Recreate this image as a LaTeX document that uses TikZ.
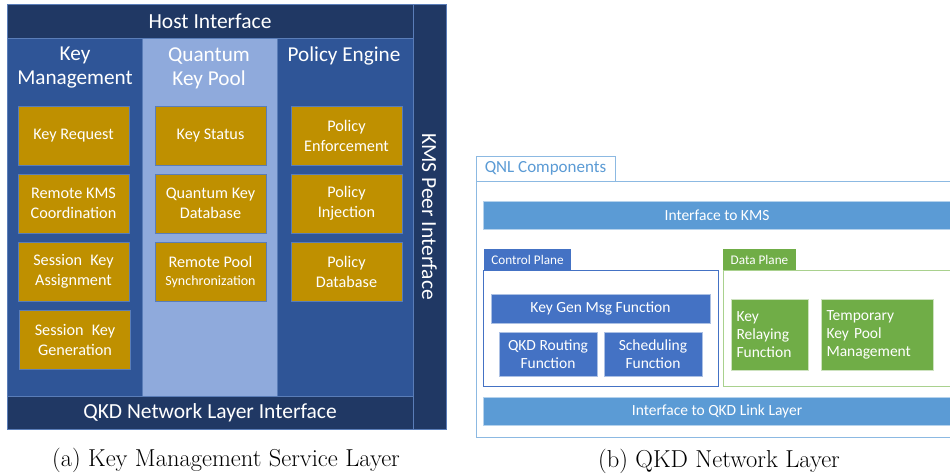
\documentclass[tikz,border=0pt]{standalone}
\usepackage{fontspec}
\newfontfamily\carlito{Carlito}
\usetikzlibrary{positioning}

\definecolor{navy}{HTML}{203864}
\definecolor{kmsblue}{HTML}{2F5597}
\definecolor{poolblue}{HTML}{8FAADC}
\definecolor{edgeblue}{HTML}{5A7DB8}
\definecolor{gold}{HTML}{BF9000}
\definecolor{qnlblue}{HTML}{5B9BD5}
\definecolor{ctrlblue}{HTML}{4472C4}
\definecolor{datagreen}{HTML}{70AD47}
\definecolor{lightgreen}{HTML}{A9D18E}

\tikzset{
	plain/.style={inner sep=0pt, outer sep=0pt, text=white, align=center, font=\carlito},
	navybar/.style={plain, fill=navy, draw=edgeblue, line width=0.6pt,
		font=\carlito\fontsize{21.5}{24}\selectfont},
	column/.style={plain, draw=edgeblue, line width=0.6pt, minimum height=358pt},
	colhead/.style={plain, font=\carlito\fontsize{21.2}{24}\selectfont},
	keybox/.style={plain, fill=gold, draw=edgeblue, line width=0.8pt,
		minimum width=111pt, minimum height=59pt,
		font=\carlito\fontsize{16.2}{20}\selectfont},
	qnlbar/.style={plain, fill=qnlblue, draw=qnlblue!45!white, line width=0.6pt,
		minimum width=468pt, minimum height=28pt,
		font=\carlito\fontsize{15.5}{18}\selectfont},
	tab/.style={plain, minimum height=21pt, font=\carlito\fontsize{13.2}{15}\selectfont},
	ctrlbox/.style={plain, fill=ctrlblue, draw=ctrlblue!45!white, line width=0.6pt,
		font=\carlito\fontsize{15.5}{18}\selectfont},
	databox/.style={plain, fill=datagreen, draw=datagreen!35!white, line width=0.6pt,
		align=left, inner xsep=5.5pt, minimum height=71pt,
		font=\carlito\fontsize{15.5}{18}\selectfont},
	caption/.style={inner sep=0pt, font=\fontsize{24.5}{29}\selectfont}
}

\begin{document}
\begin{tikzpicture}[x=1pt, y=-1pt]
	\def\colA{73.5}
	\def\colB{210.5}
	\def\colC{346.5}

	\useasboundingbox (0,0) rectangle (950,474);
	\clip (0,0) rectangle (950,474);

	% (a) Key management service layer
	\node[column, fill=kmsblue, minimum width=135pt] (keycol) at (74.5,217) {};
	\node[column, fill=poolblue, minimum width=135pt] (poolcol) at (209.5,217) {};
	\node[column, fill=kmsblue, minimum width=136pt] (policycol) at (345,217) {};

	\node[navybar, minimum width=406pt, minimum height=34pt] (host) at (210,21) {Host Interface};
	\node[navybar, minimum width=406pt, minimum height=33pt] (qnli) at (210,412.5) {QKD Network Layer Interface};
	\node[navybar, rotate=-90, minimum width=425pt, minimum height=33pt] (peer) at (429.5,216.5) {KMS Peer Interface};

	\node[colhead] (keyhead) at (75,68) {Key\\Management};
	\node[colhead] (poolhead) at (209,68) {Quantum\\Key Pool};
	\node[colhead] (policyhead) at (344,56) {Policy Engine};

	\foreach \name/\x/\y/\txt in {
		keyreq/\colA/135.5/{Key Request},
		remote/\colA/203.5/{Remote KMS\\Coordination},
		assign/\colA/271.5/{Session\enspace Key\\Assignment},
		sgen/75/340/{Session\enspace Key\\Generation},
		status/\colB/135.5/{Key Status},
		qkdb/\colB/203.5/{Quantum Key\\Database},
		enforce/\colC/135.5/{Policy\\Enforcement},
		inject/\colC/203.5/{Policy\\Injection},
		pdb/\colC/271.5/{Policy\\Database}}
		\node[keybox] (\name) at (\x,\y) {\txt};
	\node[keybox] (sync) at (\colB,271.5)
		{Remote Pool\\[-2pt]{\fontsize{14}{16}\selectfont Synchronization}};

	% (b) QKD network layer
	\draw[qnlblue!70!white, line width=0.8pt] (476,181) rectangle (958,437);
	\node[tab, draw=qnlblue!70!white, fill=white, line width=0.8pt, text=qnlblue,
		minimum width=139pt, minimum height=25pt, align=left, inner xsep=5.5pt,
		font=\carlito\fontsize{17}{18}\selectfont]
		(qnltab) at (545.5,168.5) {QNL Components\hfill};

	\node[qnlbar] (tokms) at (717,215) {Interface to KMS};
	\node[qnlbar] (tolink) at (717,411) {Interface to QKD Link Layer};

	\draw[ctrlblue, line width=0.8pt] (483,270) rectangle (718,386);
	\node[tab, fill=ctrlblue, minimum width=87pt] (ctrltab) at (527.5,259.5) {Control Plane};
	\draw[lightgreen, line width=0.8pt] (723,270) rectangle (956,386);
	\node[tab, fill=datagreen, minimum width=73pt, align=left, inner xsep=5pt] (datatab) at (759.5,259.5) {Data Plane\hfill};

	\node[ctrlbox, minimum width=219pt, minimum height=29pt] (keygen) at (600.5,308.5) {Key Gen Msg Function};
	\node[ctrlbox, minimum width=98pt, minimum height=44pt] (routing) at (548,354) {QKD Routing\\Function};
	\node[ctrlbox, minimum width=98pt, minimum height=44pt] (sched) at (653,354) {Scheduling\\Function};

	\node[databox, text width=66pt] (relay) at (769.5,334.5) {Key\\Relaying\\Function};
	\node[databox, text width=101pt] (temp) at (877,334.5) {Temporary\\Key Pool\\Management};

	% Captions
	\node[caption] (capa) at (226,460) {(a) Key Management Service Layer};
	\node[caption] (capb) at (719,461) {(b) QKD Network Layer};
\end{tikzpicture}
\end{document}
